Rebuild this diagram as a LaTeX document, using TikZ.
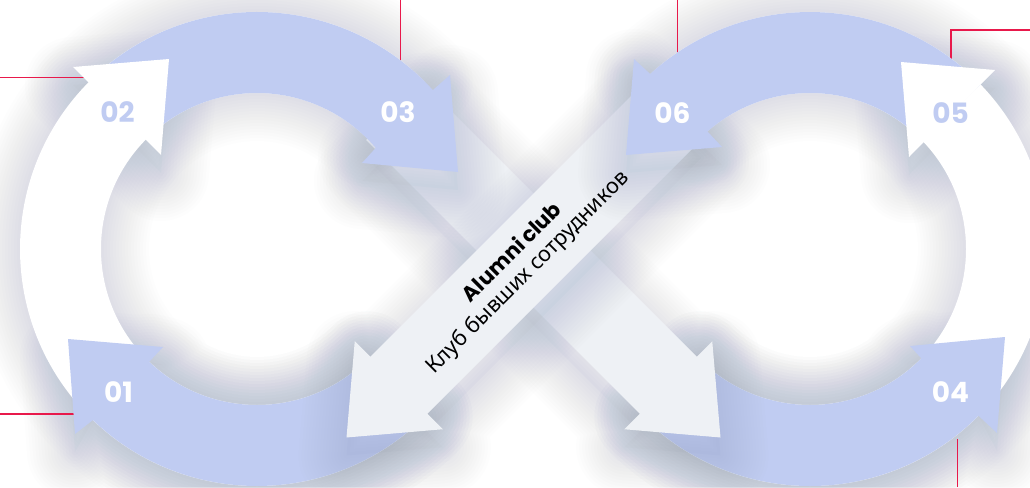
\documentclass[tikz,border=0pt]{standalone}
\usepackage{fontspec}
\setmainfont{Noto Sans}
\newfontfamily\numfont{Poppins}
\newfontfamily\txtfont{Noto Sans}
\usetikzlibrary{calc}
\definecolor{ablue}{HTML}{C0CCF2}
\definecolor{barc}{HTML}{EEF1F5}
\definecolor{redl}{HTML}{E8194B}
\definecolor{shc}{HTML}{75829A}
\newcommand\softshadow[1]{%
  \fill[shc, opacity=0.035, yshift=-18pt] #1;
  \foreach \w in {6,12,...,96}{%
    \draw[shc, line width=\w pt, line join=round, draw opacity=0.011, yshift=-18pt] #1;
  }}
\newcommand\ringL{($(L)+(45:237)$) arc[start angle=45,end angle=315,radius=237] -- ($(L)+(315:156)$) arc[start angle=315,end angle=45,radius=156] -- cycle}
\newcommand\ringR{($(R)+(-135:237)$) arc[start angle=-135,end angle=135,radius=237] -- ($(R)+(135:156)$) arc[start angle=135,end angle=-135,radius=156] -- cycle}
\newcommand\arrowA{($(L)+(45:237)$) arc[start angle=45,end angle=133.8,radius=237] -- (75,434) -- (68,339) -- (163,347) -- ($(L)+(133.7:156)$) arc[start angle=133.7,end angle=45,radius=156] -- cycle}
\newcommand\arrowC{($(L)+(225:237)$) arc[start angle=225,end angle=317.9,radius=237] -- (450,75) -- (458,172) -- (362,163) -- ($(L)+(319.6:156)$) arc[start angle=319.6,end angle=225,radius=156] -- cycle}
\newcommand\headC{(450,75) -- (458,172) -- (362,163) -- cycle}
\newcommand\arrowF{($(R)+(316:237)$) arc[start angle=316,end angle=227.6,radius=237] -- (634,59) -- (626,155) -- (722,147) -- ($(R)+(228.9:156)$) arc[start angle=228.9,end angle=316,radius=156] -- cycle}
\newcommand\headF{(634,59) -- (626,155) -- (722,147) -- cycle}
\newcommand\arrowD{($(R)+(135:237)$) arc[start angle=135,end angle=44.7,radius=237] -- (997,433) -- (1005,337) -- (910,346) -- ($(R)+(44.5:156)$) arc[start angle=44.5,end angle=135,radius=156] -- cycle}
\newcommand\headB{(73,67) -- (169,59) -- (161,155) -- cycle}
\newcommand\headE{(995,70) -- (901,62) -- (909,157) -- cycle}
\newcommand\barB{(423,83) -- (696.75,356.75) -- (712.25,341.25) -- (720.5,437.5) -- (624.25,429.25) -- (639.75,413.75) -- (366,140) -- cycle}
\newcommand\barA{(644,83) -- (370.25,356.75) -- (354.75,341.25) -- (346.5,437.5) -- (442.75,429.25) -- (427.25,413.75) -- (701,140) -- cycle}
\tikzset{
  lbl/.style={font=\numfont\bfseries\fontsize{28}{28}\selectfont, inner sep=0pt},
  redline/.style={draw=redl, line width=1.5pt},
  captxt/.style={rotate=45, anchor=base, inner sep=0pt, text=black}
}
\begin{document}
\begin{tikzpicture}[x=1pt,y=-1pt]
\useasboundingbox (0,0) rectangle (1030,487);
\clip (0,0) rectangle (1030,487);
\fill[white] (0,0) rectangle (1030,487);
\coordinate (L) at (257,249);
\coordinate (R) at (810,249);
% shadows of the ring bodies
\softshadow{\ringL}
\softshadow{\ringR}
\softshadow{\arrowA}
\softshadow{\arrowD}
\softshadow{\headB}
\softshadow{\headE}
% red leader lines
\coordinate (r1a) at (0,77.5);   \coordinate (r1b) at (86,77.5);
\coordinate (r2a) at (400.7,0);  \coordinate (r2b) at (400.7,64);
\coordinate (r3a) at (677.7,0);  \coordinate (r3b) at (677.7,57);
\coordinate (r4a) at (1030,30);  \coordinate (r4k) at (951,30); \coordinate (r4b) at (951,63);
\coordinate (r5a) at (0,414);    \coordinate (r5b) at (76,414);
\coordinate (r6a) at (957.7,487);\coordinate (r6b) at (957.7,439);
\draw[redline] (r1a) -- (r1b);
\draw[redline] (r2a) -- (r2b);
\draw[redline] (r3a) -- (r3b);
\draw[redline] (r4a) -- (r4k) -- (r4b);
\draw[redline] (r5a) -- (r5b);
\draw[redline] (r6a) -- (r6b);
% white ring bodies
\fill[white] \ringL;
\fill[white] \ringR;
% bottom blue arrows
\fill[ablue] \arrowA;
\fill[ablue] \arrowD;
% crossing bars
\softshadow{\barB}
\fill[barc] \barB;
\softshadow{\barA}
\fill[barc] \barA;
% top blue arrows
\softshadow{\headC}
\softshadow{\headF}
\fill[ablue] \arrowC;
\fill[ablue] \arrowF;
% white heads
\fill[white] \headB;
\fill[white] \headE;
% labels
\node[lbl, text=white] (n01) at (118.5,392.5) {01};
\node[lbl, text=ablue] (n02) at (117.5,112.5) {02};
\node[lbl, text=white] (n03) at (398,112.5) {03};
\node[lbl, text=white] (n04) at (950.5,392.5) {04};
\node[lbl, text=ablue] (n05) at (950.5,113) {05};
\node[lbl, text=white] (n06) at (672.5,113) {06};
\node[captxt, font=\numfont\bfseries\fontsize{21}{25}\selectfont] (t1) at (517,257) {Alumni club};
\node[captxt, font=\txtfont\fontsize{21.5}{25}\selectfont] (t2) at (532,277) {Клуб бывших сотрудников};
\end{tikzpicture}
\end{document}
